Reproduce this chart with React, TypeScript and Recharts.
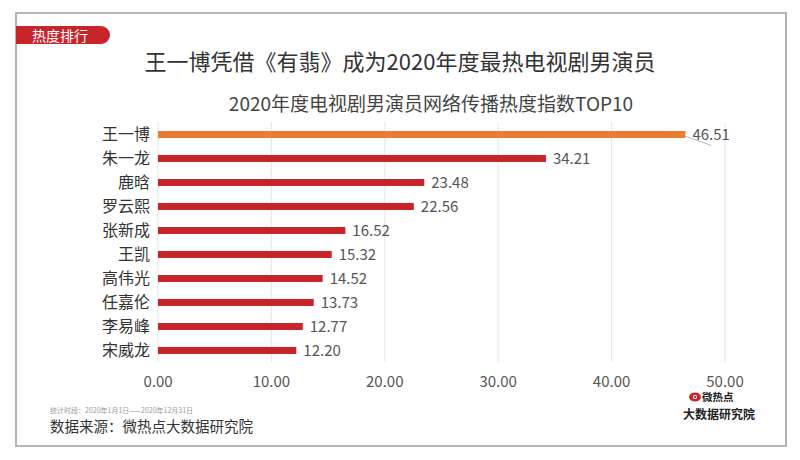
import React from "react"
import { BarChart, Bar, XAxis, YAxis, CartesianGrid, Cell, LabelList } from "recharts"

// 2020 TV drama actors — network heat index, top 10
const actors = ["王一博", "朱一龙", "鹿晗", "罗云熙", "张新成", "王凯", "高伟光", "任嘉伦", "李易峰", "宋威龙"]
const heatIndex = [46.51, 34.21, 23.48, 22.56, 16.52, 15.32, 14.52, 13.73, 12.77, 12.2]
const xTicks = [0, 10, 20, 30, 40, 50]

const data = actors.map((name, i) => ({ name, value: heatIndex[i] }))

const FONT = '"Noto Sans CJK SC", "Noto Sans", sans-serif'
const ORANGE = "#ec7c30"
const RED = "#c8252b"

const ValueLabel = (props: any) => {
  const { x, y, width, height, value, index } = props
  const ex = x + width
  const cy = y + height / 2
  return (
    <g>
      {index === 0 && <line x1={ex - 2} y1={cy + 1} x2={ex + 26} y2={cy + 11} stroke="#aaa" strokeWidth={0.8} />}
      <text x={ex + 7} y={cy} dy="0.35em" fill="#555" fontSize={15} fontFamily={FONT}>
        {Number(value).toFixed(2)}
      </text>
    </g>
  )
}

export default function App() {
  return (
    <div style={{ position: "absolute", left: 0, top: 0, width: 800, height: 460, background: "#fff", fontFamily: FONT }}>
      {/* frame */}
      <div style={{ position: "absolute", left: 15, top: 12, width: 768, height: 431, border: "2px solid #b4b4b4" }} />
      {/* tag */}
      <div
        style={{
          position: "absolute", left: 16, top: 26, width: 94, height: 18, background: RED,
          borderRadius: "0 9px 9px 0", color: "#fff", fontSize: 14, lineHeight: "18px", paddingLeft: 16, boxSizing: "border-box",
        }}
      >
        热度排行
      </div>

      <div style={{ position: "absolute", left: 0, width: 800, top: 45, textAlign: "center", fontSize: 22, color: "#333", lineHeight: "30px" }}>
        王一博凭借《有翡》成为2020年度最热电视剧男演员
      </div>
      <div style={{ position: "absolute", left: 31, width: 800, top: 90, textAlign: "center", fontSize: 19, color: "#444", lineHeight: "26px" }}>
        2020年度电视剧男演员网络传播热度指数TOP10
      </div>

      <div style={{ position: "absolute", left: 0, top: 0 }}>
        <BarChart
          width={800}
          height={460}
          data={data}
          layout="vertical"
          margin={{ top: 122, right: 75, bottom: 68, left: 0 }}
          barCategoryGap={0}
        >
          <CartesianGrid horizontal={false} stroke="#e6e6e6" />
          <XAxis
            type="number"
            domain={[0, 50]}
            ticks={xTicks}
            tickFormatter={(v: number) => v.toFixed(2)}
            axisLine={false}
            tickLine={false}
            tickMargin={8}
            height={30}
            tick={{ fill: "#555", fontSize: 15, fontFamily: FONT }}
          />
          <YAxis
            type="category"
            dataKey="name"
            width={158}
            interval={0}
            axisLine={false}
            tickLine={false}
            tick={{ fill: "#333", fontSize: 16, fontFamily: FONT }}
          />
          <Bar dataKey="value" barSize={7} isAnimationActive={false}>
            {data.map((d, i) => (
              <Cell key={d.name} fill={i === 0 ? ORANGE : RED} />
            ))}
            <LabelList dataKey="value" content={ValueLabel} />
          </Bar>
        </BarChart>
      </div>

      {/* footer */}
      <div style={{ position: "absolute", left: 50, top: 406, fontSize: 7, color: "#999", lineHeight: "9px" }}>
        统计时段：2020年1月1日——2020年12月31日
      </div>
      <div style={{ position: "absolute", left: 50, top: 416, fontSize: 14.5, color: "#333", lineHeight: "20px" }}>
        数据来源：微热点大数据研究院
      </div>

      {/* logo */}
      <svg style={{ position: "absolute", left: 680, top: 390 }} width={80} height={34}>
        <ellipse cx={15} cy={7} rx={6} ry={4.5} fill={RED} />
        <circle cx={15} cy={7} r={2} fill="#fff" />
        <circle cx={15} cy={7} r={1} fill="#222" />
        <text x={22} y={11} fontSize={10.5} fontWeight="bold" fill="#222" fontFamily={FONT}>微热点</text>
        <text x={3} y={28.5} fontSize={12} fontWeight="bold" fill="#222" fontFamily={FONT}>大数据研究院</text>
      </svg>
    </div>
  )
}
